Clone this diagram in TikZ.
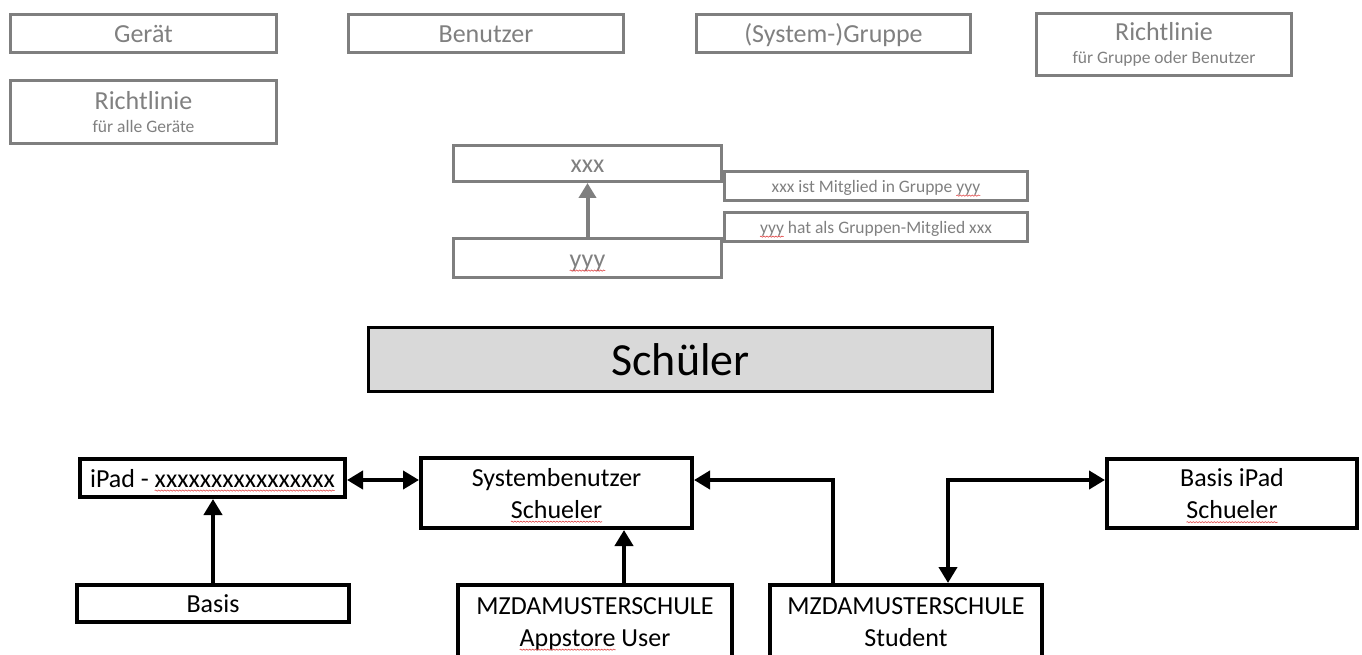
\documentclass[tikz,border=0pt]{standalone}
\usepackage{fontspec}
\setmainfont{Carlito}
\usetikzlibrary{arrows.meta,decorations.pathmorphing}
\definecolor{gline}{HTML}{7F7F7F}
\definecolor{gtext}{HTML}{808080}
\definecolor{sfill}{HTML}{D9D9D9}
\definecolor{wavyred}{HTML}{E04848}
\newcommand{\st}{\vrule width 0pt height 0.95em depth 0.25em\relax}
\newcommand{\wv}[1]{\tikz[baseline=(W.base)]{\node[draw=none,fill=none,inner sep=0pt,outer sep=0pt,minimum width=0pt,minimum height=0pt,anchor=base](W) at (0,0) {#1};\draw[overlay,wavyred,line width=0.6pt,decorate,decoration={snake,amplitude=0.6pt,segment length=3pt}] ([yshift=-3.5pt]W.base west) -- ([yshift=-3.5pt]W.base east);}}
\begin{document}
\begin{tikzpicture}[x=1pt,y=-1pt,
 gbox/.style={draw=gline,line width=3pt,text=gtext,inner sep=0pt,font=\fontsize{26}{31}\selectfont,align=center},
 bbox/.style={draw=black,line width=4pt,text=black,inner sep=0pt,font=\fontsize{26}{31}\selectfont,align=center},
 ann/.style={gbox,font=\fontsize{17.5}{20}\selectfont},
 sz/.style 2 args={minimum width=#1pt,minimum height=#2pt},
 barr/.style={draw=black,line width=4pt,-{Triangle[length=16pt,width=18pt]}},
 bdbl/.style={draw=black,line width=4pt,{Triangle[length=16pt,width=18pt]}-{Triangle[length=16pt,width=18pt]}},
 garr/.style={draw=gline,line width=4pt,-{Triangle[length=15pt,width=17pt]}}
]
\useasboundingbox (0,0) rectangle (1362,655);
\clip (0,0) rectangle (1362,655);

% legend
\node[gbox,sz={266}{38}] (geraet) at (143.5,33.5) {\st Gerät};
\node[gbox,sz={275}{38}] (benutzer) at (486,33.5) {\st Benutzer};
\node[gbox,sz={274}{38}] (gruppe) at (833.5,33.5) {\st(System-)Gruppe};
\node[gbox,sz={255}{62}] (richtgb) at (1164,44.5) {Richtlinie\\[-8pt]{\fontsize{17.5}{20}\selectfont für Gruppe oder Benutzer}};
\node[gbox,sz={266}{63}] (richtall) at (143.5,112) {Richtlinie\\[-8pt]{\fontsize{17.5}{20}\selectfont für alle Geräte}};

% membership legend
\node[ann,sz={303}{29}] (mit1) at (876,186) {\st xxx ist Mitglied in Gruppe \wv{yyy}};
\node[ann,sz={303}{29}] (mit2) at (876,227) {\st\wv{yyy} hat als Gruppen-Mitglied xxx};
\node[gbox,sz={268}{36}] (xxx) at (587.5,163.5) {\st xxx};
\node[gbox,sz={268}{39}] (yyy) at (587.5,258) {\st\wv{yyy}};
\draw[garr] (yyy.north) -- (xxx.south);

% title
\node[draw=black,line width=3.5pt,fill=sfill,minimum width=624pt,minimum height=64pt,inner sep=0pt,font=\fontsize{46}{50}\selectfont] (schueler) at (680.5,359.5) {\st Schüler};

% diagram
\node[bbox,sz={265}{38}] (ipad) at (212.5,478) {\st iPad - \wv{xxxxxxxxxxxxxxxx}};
\node[bbox,sz={271}{70}] (sysb) at (556.5,493) {\st Systembenutzer\\\st\wv{Schueler}};
\node[bbox,sz={250}{69}] (bipad) at (1232,493.5) {\st Basis iPad\\\st\wv{Schueler}};
\node[bbox,sz={272}{37}] (basis) at (213,603.5) {\st Basis};
\node[bbox,sz={274}{72}] (appstore) at (595,621) {\st MZDAMUSTERSCHULE\\\st\wv{Appstore} User};
\node[bbox,sz={272}{72}] (student) at (906,621) {\st MZDAMUSTERSCHULE\\\st Student};

\coordinate (h) at (0,480);
\coordinate (xa) at (624,0);
\coordinate (xs) at (833,0);
\coordinate (xb) at (948,0);

\draw[bdbl] (ipad.east |- h) -- (sysb.west |- h);
\draw[barr] (basis.north) -- (basis.north |- ipad.south);
\draw[barr] (xa |- appstore.north) -- (xa |- sysb.south);
\draw[barr] (xs |- student.north) |- (sysb.east |- h);
\draw[bdbl] (xb |- student.north) |- (bipad.west |- h);
\end{tikzpicture}
\end{document}
